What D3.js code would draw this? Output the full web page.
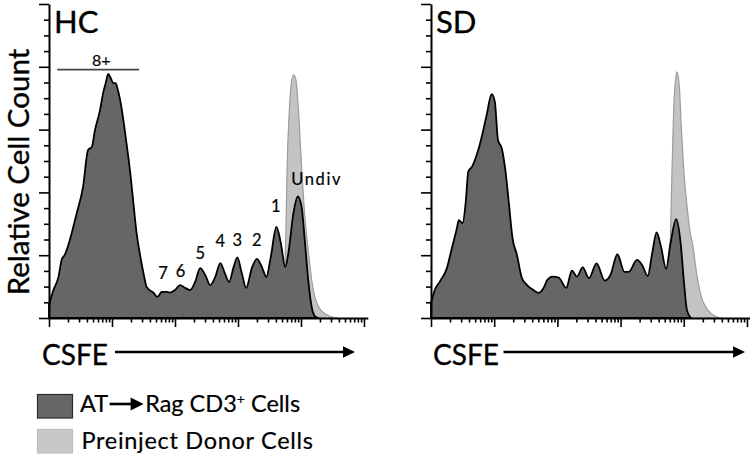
<!DOCTYPE html>
<html><head><meta charset="utf-8">
<script src="https://cdn.jsdelivr.net/npm/d3@7"></script>
<style>
body{margin:0;background:#fff}
svg{display:block}
text{font-family:Lato,"Open Sans",sans-serif;fill:#000}
text.heavy{stroke:#000;stroke-width:0.35px}
text.mid{stroke:#000;stroke-width:0.2px}
</style>
</head><body>
<svg id="chart" width="750" height="456"></svg>
<script>
// ---- data (x = log10 CSFE intensity, y = relative count 0..100) ----
const hcDarkLog = [0.00,0.07,0.15,0.20,0.25,0.33,0.44,0.54,0.62,0.68,0.73,0.81,0.86,0.90,0.94,0.98,1.02,1.06,1.08,1.13,1.18,1.23,1.29,1.34,1.39,1.44,1.50,1.55,1.66,1.72,1.79,1.87,1.92,2.00,2.08,2.16,2.24,2.32,2.40,2.48,2.56,2.64,2.72,2.79,2.86,2.93,2.99,3.06,3.13,3.22,3.30,3.38,3.45,3.52,3.61,3.68,3.75,3.80,3.88,3.95,4.01,4.06,4.12,4.17,4.22,4.28];
const hcDarkCount = [4.1,8.9,13.1,18.5,20.1,24.8,33.4,41.7,53.5,54.5,59.9,66.2,71.7,74.8,77.7,76.4,74.8,74.8,73.6,69.4,63.1,55.7,46.2,36.6,27.1,20.7,14.3,9.9,8.0,6.7,8.3,8.3,8.1,8.9,10.5,9.6,8.9,11.5,15.9,13.7,10.5,13.1,17.5,14.3,11.5,16.2,19.3,14.3,9.6,15.9,18.8,16.2,13.1,19.4,29.0,23.9,16.2,20.7,33.4,38.7,35.4,24.8,11.1,3.5,0.6,0];
const hcGrayLog = [3.51,3.67,3.73,3.76,3.78,3.81,3.84,3.88,3.92,3.96,4.01,4.06,4.12,4.17,4.22,4.30,4.41,4.51,4.59];
const hcGrayCount = [0,4.1,10.5,27.1,48.1,64.0,73.6,77.4,75.8,66.2,48.1,32.8,20.7,12.1,6.7,2.9,1.0,0.2,0];

const sdDarkLog = [0.00,0.06,0.14,0.25,0.33,0.41,0.44,0.50,0.55,0.59,0.65,0.74,0.81,0.88,0.96,1.01,1.06,1.12,1.18,1.23,1.29,1.36,1.44,1.52,1.62,1.70,1.78,1.84,1.92,2.02,2.14,2.23,2.31,2.40,2.50,2.62,2.75,2.84,2.95,3.06,3.13,3.26,3.34,3.43,3.50,3.57,3.64,3.72,3.79,3.88,3.95,4.00,4.05,4.11];
const sdDarkCount = [4.7,8.9,11.6,15.8,22.2,28.6,31.2,30.2,37.0,46.6,48.2,53.0,58.3,64.6,71.3,68.9,56.7,54.0,46.6,37.0,25.4,20.1,12.6,10.5,8.9,8.0,9.5,12.1,13.2,12.9,9.6,15.1,13.2,16.1,12.7,17.4,11.9,13.7,20.3,14.7,14.7,18.5,16.9,13.4,20.6,27.3,22.7,15.7,23.8,31.5,23.9,12.1,2.5,0];
const sdGrayLog = [3.56,3.68,3.75,3.79,3.81,3.84,3.87,3.89,3.93,3.96,4.00,4.05,4.10,4.15,4.20,4.27,4.38,4.51,4.62];
const sdGrayCount = [0,4.1,12.1,26.4,43.9,66.2,75.8,78.4,73.7,60.9,47.1,36.0,27.4,22.3,14.6,7.3,2.5,0.5,0];

const panelNames = ["HC","SD"];
const peakLabels = ["7","6","5","4","3","2","1","Undiv"];
const peakLabelLog = [1.81,2.09,2.40,2.72,2.99,3.30,3.60,4.25];
const peakLabelCount = [12.3,13.1,18.8,22.7,23.0,22.9,33.9,42.4];
const gateLabel = "8+";
const gateLog = [0.13,1.43];
const gateLabelLog = 0.83;
const gateCount = 79.1;
const legendLabels = ["AT", "Rag CD3", "+", " Cells", "Preinject Donor Cells"];
const axisLabelX = "CSFE";
const axisLabelY = "Relative Cell Count";

// ---- layout ----
const svg = d3.select("#chart");
const DARK = "#666666", LIGHT = "#c3c3c3";
const y = d3.scaleLinear().domain([0,100]).range([318,4]);
const xMax = 1.15e5;
const xScales = [
  d3.scaleLog().domain([1,xMax]).range([49,367.8]),
  d3.scaleLog().domain([1,xMax]).range([431,750.8])
];
const xTickVals = [];
for (let k=0;k<=5;k++) for (let m=1;m<=9;m++){ const v=m*Math.pow(10,k); if (v<=xMax) xTickVals.push(v); }
const yTickVals = d3.range(0,101,5);

const series = [
  {dark: d3.zip(hcDarkLog,hcDarkCount), gray: d3.zip(hcGrayLog,hcGrayCount)},
  {dark: d3.zip(sdDarkLog,sdDarkCount), gray: d3.zip(sdGrayLog,sdGrayCount)}
];

series.forEach((s,i)=>{
  const x = xScales[i];
  const area = d3.area()
    .x(d=>x(Math.pow(10,d[0])))
    .y0(y(0))
    .y1(d=>y(d[1]))
    .curve(d3.curveMonotoneX);
  svg.append("path").datum(s.gray).attr("d",area)
    .attr("fill",LIGHT).attr("stroke","#9c9c9c").attr("stroke-width",1.2);
  svg.append("path").datum(s.dark).attr("d",area)
    .attr("fill",DARK).attr("stroke","#000").attr("stroke-width",1.8).attr("stroke-linejoin","round");

  // y axis
  const x0 = x.range()[0];
  const gy = svg.append("g").attr("transform",`translate(${x0},0)`)
    .call(d3.axisLeft(y).tickValues(yTickVals).tickFormat("").tickSizeOuter(0));
  gy.selectAll(".tick line").attr("x2",d=> d%20===0 ? -10 : -5).attr("stroke-width",1.6);
  gy.select(".domain").attr("stroke-width",2);

  // x axis
  const gx = svg.append("g").attr("transform",`translate(0,${y(0)})`)
    .call(d3.axisBottom(x).tickValues(xTickVals).tickFormat("").tickSizeOuter(0));
  gx.selectAll(".tick line").attr("y2",d=>{
      const l = Math.log10(d); return Math.abs(l-Math.round(l))<1e-9 ? 9 : 4.5; })
    .attr("stroke-width",1.6);
  gx.select(".domain").attr("stroke-width",2);

  // panel title
  svg.append("text").attr("class","heavy").attr("x",x0+5).attr("y",33).attr("font-size",31).text(panelNames[i]);

  // CSFE label + arrow
  const lx = i===0 ? 42 : 433;
  const a0 = i===0 ? 115 : 503.5;
  const a1 = i===0 ? 355 : 745;
  svg.append("text").attr("class","heavy").attr("x",lx).attr("y",365).attr("font-size",28).text(axisLabelX);
  svg.append("line").attr("x1",a0).attr("x2",a1-10).attr("y1",352).attr("y2",352)
    .attr("stroke","#000").attr("stroke-width",2.5);
  svg.append("path").attr("d",`M${a1-12},346.3L${a1},352L${a1-12},357.7Z`).attr("fill","#000");
});

// y label
svg.append("text").attr("class","heavy").attr("transform","translate(29,172) rotate(-90)")
  .attr("text-anchor","middle").attr("font-size",29.5).text(axisLabelY);

// HC annotations
const xl = xScales[0];
svg.append("line").attr("x1",xl(Math.pow(10,gateLog[0]))).attr("x2",xl(Math.pow(10,gateLog[1])))
  .attr("y1",y(gateCount)).attr("y2",y(gateCount)).attr("stroke","#444").attr("stroke-width",1.6);
svg.append("text").attr("class","mid").attr("x",xl(Math.pow(10,gateLabelLog))).attr("y",y(gateCount)-3.2)
  .attr("text-anchor","middle").attr("font-size",16).text(gateLabel);
peakLabels.forEach((t,j)=>{
  svg.append("text").attr("class","mid").attr("x",xl(Math.pow(10,peakLabelLog[j]))).attr("y",y(peakLabelCount[j]))
    .attr("text-anchor","middle").attr("font-size",16.5)
    .attr("letter-spacing", t.length>1 ? 1.6 : 0).text(t);
});

// legend
svg.append("rect").attr("x",37.5).attr("y",394.5).attr("width",35).attr("height",23.5)
  .attr("fill",DARK).attr("stroke","#2a2a2a").attr("stroke-width",1.2);
svg.append("rect").attr("x",37.5).attr("y",429.5).attr("width",35).attr("height",23.5)
  .attr("fill","#c8c8c8").attr("stroke","#bdbdbd").attr("stroke-width",1.2);
const LF = 23.5;
const t1 = svg.append("text").attr("class","mid").attr("x",80).attr("y",412).attr("font-size",LF).text(legendLabels[0]);
const w1 = t1.node().getComputedTextLength();
const ax0 = 80 + w1 + 1.5, ax1 = ax0 + 34;
svg.append("line").attr("x1",ax0).attr("x2",ax1-10).attr("y1",404).attr("y2",404)
  .attr("stroke","#000").attr("stroke-width",2.6);
svg.append("path").attr("d",`M${ax1-13},397.5L${ax1},404L${ax1-13},410.5Z`).attr("fill","#000");
const t2 = svg.append("text").attr("class","mid").attr("x",ax1+1.5).attr("y",412).attr("font-size",LF);
t2.append("tspan").text(legendLabels[1]);
t2.append("tspan").attr("font-size",14).attr("dy",-8.5).text(legendLabels[2]);
t2.append("tspan").attr("dy",8.5).text(legendLabels[3]);
svg.append("text").attr("class","mid").attr("x",81.5).attr("y",448.5).attr("font-size",LF)
  .attr("letter-spacing",0.7).text(legendLabels[4]);
</script>
</body></html>
